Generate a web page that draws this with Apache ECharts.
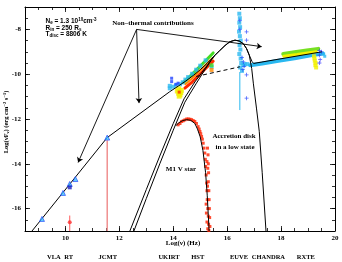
<!DOCTYPE html>
<html><head><meta charset="utf-8">
<script src="https://cdn.jsdelivr.net/npm/echarts@6/dist/echarts.min.js"></script>
<style>html,body{margin:0;padding:0;background:#fff}#c{width:342px;height:262px}</style>
</head><body><div id="c"></div>
<script>
// ---- axes ----
const xRange = [8.5, 20];
const yRange = [-17, -7];
const xTickLabels = [10, 12, 14, 16, 18, 20];
const yTickLabels = [-16, -14, -12, -10, -8];
// ---- instruments (log frequency) ----
const instrumentNames = ['VLA', 'RT', 'JCMT', 'UKIRT', 'HST', 'EUVE', 'CHANDRA', 'RXTE'];
const instrumentLogNu = [9.57, 10.12, 11.57, 13.84, 14.91, 16.44, 17.53, 18.92];
// ---- models ----
const totalModel = [[8.76,-17],[11.55,-12.83],[13.87,-10.78],[14.2,-10.52],[14.47,-10.3],[14.75,-10.05],[15.0,-9.8],[15.25,-9.52],[15.51,-9.2],[15.72,-8.95],[15.92,-8.72],[16.1,-8.55],[16.29,-8.48],[16.45,-8.52],[16.6,-8.64],[16.72,-8.86],[16.82,-9.15],[16.92,-9.43],[16.98,-9.52],[19.51,-9.0]];
const diskModel = [[12.54,-17],[13.0,-15.55],[13.5,-14.0],[14.0,-12.5],[14.43,-11.25],[14.86,-10.4],[15.2,-9.75],[15.51,-9.2],[15.72,-8.95],[15.92,-8.72],[16.1,-8.55],[16.29,-8.48],[16.45,-8.52],[16.6,-8.64],[16.72,-8.86],[16.82,-9.15],[16.91,-9.75],[16.97,-10.4],[17.09,-11.55],[17.19,-12.55],[17.3,-14.4],[17.44,-17]];
const diskModel2 = [[12.39,-17],[13.0,-15.15],[13.5,-13.65],[14.0,-12.2],[14.4,-11.1],[14.8,-10.35],[15.2,-9.7],[15.51,-9.2]];
const xrayPowerLaw = [[14.85,-10.1],[16.47,-9.67]];
const starModel = [[14.1,-12.3],[14.2,-12.17],[14.35,-12.07],[14.5,-12.03],[14.65,-12.06],[14.8,-12.2],[14.9,-12.45],[15.0,-12.8],[15.1,-13.4],[15.2,-14.4],[15.26,-15.4],[15.3,-16.3],[15.33,-17]];
// ---- observations ----
const radioPoints = [[9.13,-16.46],[9.91,-15.30],[10.16,-14.90],[10.37,-14.68],[11.55,-12.83]];
const radioDark = [[10.16,-15.05]];
const rtPoint = [[10.16,-16.61]];
const rtError = [[10.16,-16.31],[10.16,-17]];
const jcmtLimit = [[11.55,-12.95],[11.55,-17]];
const optCyan = [[13.87,-10.63],[13.87,-10.52],[14.0,-10.56],[14.1,-10.5],[14.25,-10.45],[14.35,-10.36],[14.45,-10.24],[14.55,-10.13],[14.7,-9.98],[14.85,-9.8],[15.0,-9.62],[15.2,-9.38],[15.42,-9.67]];
const optBlue = [[13.94,-10.18],[13.94,-10.33],[14.1,-10.45],[14.18,-10.4]];
const optGreenBand = [[14.37,-10.38],[14.6,-10.12],[14.9,-9.76],[15.2,-9.4],[15.48,-9.05]];
const optGreenPts = [[15.42,-9.6]];
const optYellow = [[14.15,-10.75],[14.2,-10.85],[14.25,-10.92],[14.3,-10.72],[14.2,-10.65],[14.28,-10.82],[14.22,-10.98]];
const optOrangeBand = [[14.45,-10.45],[14.7,-10.18],[15.0,-9.82],[15.3,-9.46],[15.46,-9.28]];
const optOrangePts = [[15.42,-9.81]];
const optRedBand = [[14.43,-10.62],[14.7,-10.35],[15.0,-9.98],[15.3,-9.62],[15.48,-9.42]];
const optRedPts = [[14.22,-10.8]];
const starData = [[14.18,-12.26],[14.25,-12.2],[14.31,-12.11],[14.37,-12.08],[14.43,-12.04],[14.5,-12.0],[14.56,-12.0],[14.62,-12.01],[14.68,-12.03],[14.74,-12.07],[14.8,-12.11],[14.86,-12.2],[14.92,-12.34],[14.96,-12.45],[14.99,-12.56],[15.02,-12.66],[15.05,-12.78],[15.08,-12.9],[15.11,-13.08],[15.14,-13.3],[15.17,-13.52],[15.19,-13.8],[15.2,-14.12],[15.22,-14.5],[15.24,-14.86],[15.25,-15.2],[15.26,-15.6],[15.28,-16.0],[15.3,-16.34],[15.31,-16.7],[15.32,-16.98],[15.27,-13.3],[15.29,-13.6],[15.3,-14.0],[15.31,-14.4],[15.3,-14.8],[15.32,-15.2],[15.33,-15.6],[15.34,-16.0],[15.35,-16.4],[15.36,-16.8],[15.28,-16.9],[15.25,-16.6],[15.23,-16.2],[15.22,-15.8],[15.27,-15.0],[15.28,-14.2],[15.25,-13.9]];
const euveCyan = [[16.45,-7.3],[16.47,-7.5],[16.45,-7.7],[16.48,-7.9],[16.44,-8.1],[16.47,-8.3],[16.5,-8.5],[16.46,-8.7],[16.49,-8.9],[16.45,-9.1],[16.5,-9.3],[16.52,-9.5],[16.48,-9.7],[16.55,-9.85],[16.6,-9.6],[16.65,-9.55],[16.75,-9.55]];
const euveLine = [[16.47,-9.9],[16.47,-11.6]];
const euveBlue = [[16.72,-8.11],[16.72,-8.48],[16.55,-9.25],[16.6,-9.45],[16.63,-9.65],[16.58,-9.8],[16.72,-10.03],[16.72,-11.07],[16.47,-7.6],[16.47,-8.0]];
const xrayCyanBand = [[16.85,-9.6],[17.3,-9.52],[17.9,-9.4],[18.5,-9.29],[19.1,-9.16],[19.55,-9.08]];
const xrayCyanPts = [[19.58,-9.1],[19.62,-9.2]];
const xrayGreenBand = [[18.08,-9.1],[18.5,-9.02],[18.95,-8.94],[19.38,-8.87]];
const xrayYellowBand = [[18.1,-9.2],[18.6,-9.12],[19.1,-9.03],[19.3,-9.0]];
const xrayYellowPts = [[19.22,-9.2],[19.25,-9.4],[19.27,-9.6],[19.3,-9.7],[19.24,-9.3],[19.28,-9.5]];
const xrayBlue = [[19.42,-8.95],[19.42,-9.15],[19.45,-9.35],[19.42,-9.5],[19.5,-9.0]];

const chart = echarts.init(document.getElementById('c'), null, {renderer: 'canvas'});
const F = 'Liberation Serif';
const black = '#000';
function baseAxis(type, pos, range, labels, showLabel) {
  return {
    type: 'value', position: pos, min: range[0], max: range[1], interval: 0.5,
    axisLine: {show: true, onZero: false, lineStyle: {color: black, width: 1}},
    axisTick: {show: true, inside: true, length: 3, lineStyle: {color: black, width: 0.8}},
    splitLine: {show: false},
    axisLabel: {show: showLabel, fontFamily: F, fontWeight: 'bold', fontSize: 7, color: black,
      margin: 4, showMinLabel: true, showMaxLabel: true,
      formatter: v => labels.some(l => Math.abs(l - v) < 1e-6) ? String(v) : ''}
  };
}
function majorAxis(pos, range, labels) {
  return {
    type: 'value', position: pos, min: range[0], max: range[1],
    axisLine: {show: false}, splitLine: {show: false}, axisLabel: {show: false},
    axisTick: {show: true, inside: true, length: 5, customValues: labels, lineStyle: {color: black, width: 0.8}}
  };
}
function line(data, opts) {
  return Object.assign({type: 'line', data: data, showSymbol: false, symbol: 'none', silent: true,
    lineStyle: {color: black, width: 1}, animation: false, z: 5}, opts || {});
}
function band(data, color, width) {
  return line(data, {lineStyle: {color: color, width: width, cap: 'round'}, z: 3});
}
function pts(data, color, size, symbol, opts) {
  return Object.assign({type: 'scatter', data: data, symbol: symbol || 'rect', symbolSize: size || 3,
    itemStyle: {color: color}, silent: true, animation: false, z: 3}, opts || {});
}
const cross = 'path://M4,0 L6,0 L6,4 L10,4 L10,6 L6,6 L6,10 L4,10 L4,6 L0,6 L0,4 L4,4 Z';
const series = [
  pts(starData, '#ff2200', 3, 'rect'),
  line(starModel),
  pts(optCyan, '#29b8f0', 4), pts(optYellow, '#f2f000', 5),
  band(optGreenBand, '#44dd22', 3), pts(optGreenPts, '#44dd22', 4),
  band(optRedBand, '#ff2a00', 3), pts(optRedPts, '#ff2a00', 3),
  band(optOrangeBand, '#ff8a00', 2), pts(optOrangePts, '#ff8a00', 4),
  pts(optBlue, '#2244ff', 3),
  pts(euveCyan, '#29b8f0', 4),
  line(euveLine, {lineStyle: {color: '#29b8f0', width: 1}, z: 2}),
  pts(euveBlue, '#2040ff', 4, cross),
  band(xrayCyanBand, '#29b8f0', 4), pts(xrayCyanPts, '#29b8f0', 3),
  band(xrayGreenBand, '#77e022', 4),
  band(xrayYellowBand, '#f2f000', 3), pts(xrayYellowPts, '#f2f000', 4),
  pts(xrayBlue, '#3030ff', 4, cross),
  line(jcmtLimit, {lineStyle: {color: '#f09090', width: 1.5}, z: 2}),
  line(rtError, {lineStyle: {color: '#ff3030', width: 0.8}, z: 2}),
  pts(rtPoint, '#ff3030', 4, 'circle'),
  line(totalModel),
  line(diskModel),
  line(diskModel2),
  line(xrayPowerLaw, {lineStyle: {color: black, width: 1, type: [4, 3]}}),
  pts(radioPoints, '#3ec8f8', 5, 'triangle', {itemStyle: {color: '#3ec8f8', borderColor: '#1a3cff', borderWidth: 0.8}, z: 6}),
  pts(radioDark, '#1a20c0', 4, 'rect', {z: 6}),
  {type: 'line', data: [], silent: true, markLine: {silent: true, symbol: ['none', 'arrow'], symbolSize: 5,
    lineStyle: {color: black, width: 0.9, type: 'solid'}, label: {show: false}, animation: false,
    data: [
      [{coord: [12.64, -8.0]}, {coord: [10.47, -13.94]}],
      [{coord: [12.64, -8.0]}, {coord: [12.73, -11.29]}],
      [{coord: [12.64, -8.0]}, {coord: [17.28, -8.77]}]
    ]}}
];
chart.setOption({
  animation: false,
  backgroundColor: '#fff',
  grid: {left: 25, right: 7, top: 7, bottom: 31, containLabel: false},
  xAxis: [baseAxis('x', 'bottom', xRange, xTickLabels, true), baseAxis('x', 'top', xRange, [], false),
          majorAxis('bottom', xRange, xTickLabels), majorAxis('top', xRange, xTickLabels)],
  yAxis: [baseAxis('y', 'left', yRange, yTickLabels, true), baseAxis('y', 'right', yRange, [], false),
          majorAxis('left', yRange, yTickLabels), majorAxis('right', yRange, yTickLabels)],
  series: series
});
const graphics = [];
const tstyle = (t, x, y, extra) => ({type: 'text', x: x, y: y, silent: true,
  style: Object.assign({text: t, fontFamily: F, fontWeight: 'bold', fontSize: 7, fill: black, align: 'center', verticalAlign: 'middle'}, extra || {})});
instrumentNames.forEach((n, i) => {
  const px = chart.convertToPixel({xAxisIndex: 0}, instrumentLogNu[i]);
  graphics.push(tstyle(n, px, 257, {fontSize: 6.5}));
});
graphics.push(tstyle('Log(\u03bd) (Hz)', 183, 243));
graphics.push(tstyle('Non\u2013thermal contributions', 153, 23));
graphics.push(tstyle('Accretion disk', 234, 136));
graphics.push(tstyle('in a low state', 235, 147));
graphics.push(tstyle('M1 V star', 181, 169));
const S = 'Liberation Sans';
const rich = {
  n: {fontFamily: S, fontWeight: 'bold', fontSize: 6.5, fill: black},
  sub: {fontFamily: S, fontWeight: 'bold', fontSize: 4.5, fill: black, padding: [3, 0, 0, 0]},
  sup: {fontFamily: S, fontWeight: 'bold', fontSize: 4.5, fill: black, padding: [0, 0, 3, 0]}
};
function rtext(t, x, y) {
  return {type: 'text', x: x, y: y, silent: true,
    style: {text: t, rich: rich, align: 'left', verticalAlign: 'middle', fill: black}};
}
graphics.push(rtext('{n|N}{sub|e}{n| = 1.3 10}{sup|10}{n|cm}{sup|-3}', 45.5, 21.7));
graphics.push(rtext('{n|R}{sub|in}{n| = 250 R}{sub|s}', 45.5, 28.3));
graphics.push(rtext('{n|T}{sub|disc}{n| = 8806 K}', 45.5, 34.5));
const yrich = {
  n: {fontFamily: F, fontWeight: 'bold', fontSize: 6.5, fill: black},
  sub: {fontFamily: F, fontWeight: 'bold', fontSize: 4.5, fill: black, padding: [3, 0, 0, 0]},
  sup: {fontFamily: F, fontWeight: 'bold', fontSize: 4.5, fill: black, padding: [0, 0, 3, 0]}
};
graphics.push({type: 'text', x: 6, y: 122, rotation: Math.PI / 2, silent: true,
  style: {text: '{n|Log(\u03bdF}{sub|\u03bd}{n|) (erg cm}{sup|\u22122}{n| s}{sup|\u22121}{n|)}', rich: yrich,
    align: 'center', verticalAlign: 'middle', fill: black}});
chart.setOption({graphic: graphics});
</script></body></html>
